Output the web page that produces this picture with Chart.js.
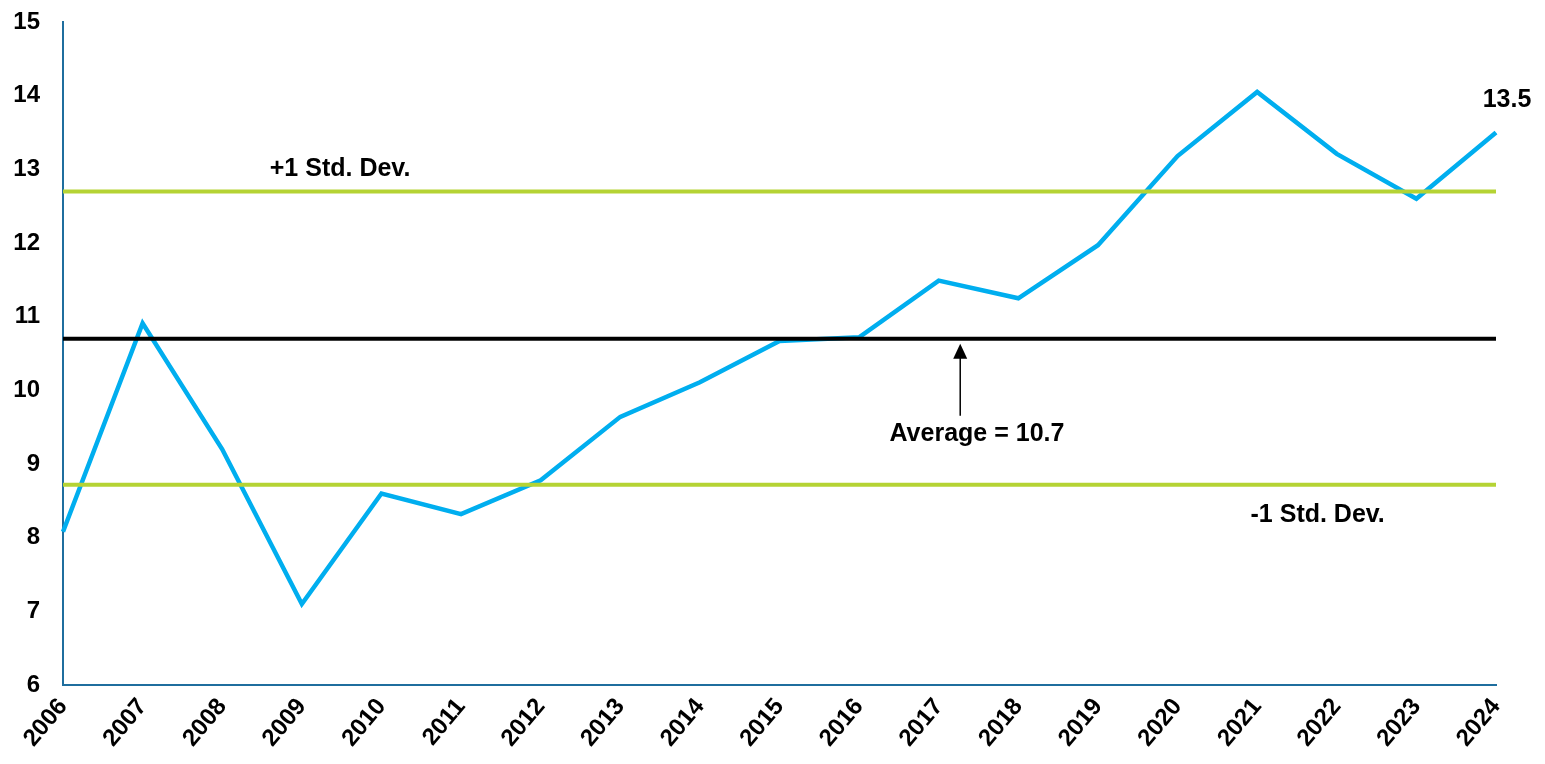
<!DOCTYPE html>
<html>
<head>
<meta charset="utf-8">
<script src="https://cdn.jsdelivr.net/npm/chart.js@4"></script>
<style>
  html, body { margin: 0; padding: 0; background: #fff; }
  #wrap { width: 1545px; height: 764px; }
</style>
</head>
<body>
<div id="wrap"><canvas id="pe-chart" width="1545" height="764"></canvas></div>
<script>
// Anni e valori annuali
const years = ['2006', '2007', '2008', '2009', '2010', '2011', '2012', '2013', '2014', '2015',
               '2016', '2017', '2018', '2019', '2020', '2021', '2022', '2023', '2024'];
const values = [8.08, 10.91, 9.2, 7.1, 8.6, 8.32, 8.78, 9.64, 10.11, 10.67,
                10.72, 11.49, 11.25, 11.97, 13.18, 14.05, 13.21, 12.6, 13.5];

// Media e deviazione standard
const average = 10.7;
const plusStd = 12.7;
const minusStd = 8.72;

const blue = '#00AEEF';
const green = '#B5D334';
const axisColor = '#1F6E9E';
const fontFamily = 'Liberation Sans, Arial, sans-serif';
const font = { family: fontFamily, size: 24, weight: 'bold' };

const flat = v => years.map(() => v);

// Testi e freccia sopra il grafico
const notesPlugin = {
    id: 'notes',
    afterDatasetsDraw(chart) {
        const ctx = chart.ctx;
        const x = chart.scales.x;
        const y = chart.scales.y;
        ctx.save();
        ctx.fillStyle = '#000';
        ctx.font = 'bold 25px ' + fontFamily;
        ctx.textAlign = 'center';
        ctx.textBaseline = 'middle';

        ctx.fillText('+1 Std. Dev.', x.getPixelForValue(3.48), y.getPixelForValue(plusStd) - 22);
        ctx.fillText('-1 Std. Dev.', x.getPixelForValue(15.76), y.getPixelForValue(minusStd) + 30);
        ctx.fillText('Average = 10.7', x.getPixelForValue(11.48), y.getPixelForValue(average) + 95);

        // freccia verso la media
        const ax = x.getPixelForValue(11.27);
        const ay = y.getPixelForValue(average) + 5;
        ctx.strokeStyle = '#000';
        ctx.lineWidth = 1.5;
        ctx.beginPath();
        ctx.moveTo(ax, ay + 10);
        ctx.lineTo(ax, ay + 72);
        ctx.stroke();
        ctx.beginPath();
        ctx.moveTo(ax, ay);
        ctx.lineTo(ax - 7, ay + 15);
        ctx.lineTo(ax + 7, ay + 15);
        ctx.closePath();
        ctx.fill();

        // ultimo valore
        const last = values.length - 1;
        ctx.fillText(values[last].toFixed(1), x.getPixelForValue(last) + 11, y.getPixelForValue(values[last]) - 32);
        ctx.restore();
    }
};

new Chart(document.getElementById('pe-chart'), {
    type: 'line',
    data: {
        labels: years,
        datasets: [
            { data: values, borderColor: blue, borderWidth: 4.5, pointRadius: 0, tension: 0, order: 2 },
            { data: flat(plusStd), borderColor: green, borderWidth: 4, pointRadius: 0, order: 1 },
            { data: flat(minusStd), borderColor: green, borderWidth: 4, pointRadius: 0, order: 1 },
            { data: flat(average), borderColor: '#000', borderWidth: 4, pointRadius: 0, order: 1 }
        ]
    },
    options: {
        responsive: false,
        animation: false,
        layout: { padding: { top: 22, right: 49, left: 0, bottom: 0 } },
        plugins: {
            legend: { display: false },
            tooltip: { enabled: false }
        },
        scales: {
            x: {
                offset: false,
                grid: { display: false, drawTicks: false },
                border: { color: axisColor, width: 2 },
                ticks: { color: '#000', font: font, minRotation: 50, maxRotation: 50, padding: 8, autoSkip: false },
                afterFit(s) { s.height = 79; s.paddingLeft = 0; s.paddingRight = 0; }
            },
            y: {
                min: 6,
                max: 15,
                grid: { display: false, drawTicks: false },
                border: { color: axisColor, width: 2 },
                ticks: { color: '#000', font: font, stepSize: 1, padding: 23 },
                afterFit(s) { s.width = 63; s.paddingTop = 0; s.paddingBottom = 0; }
            }
        }
    },
    plugins: [notesPlugin]
});
</script>
</body>
</html>
